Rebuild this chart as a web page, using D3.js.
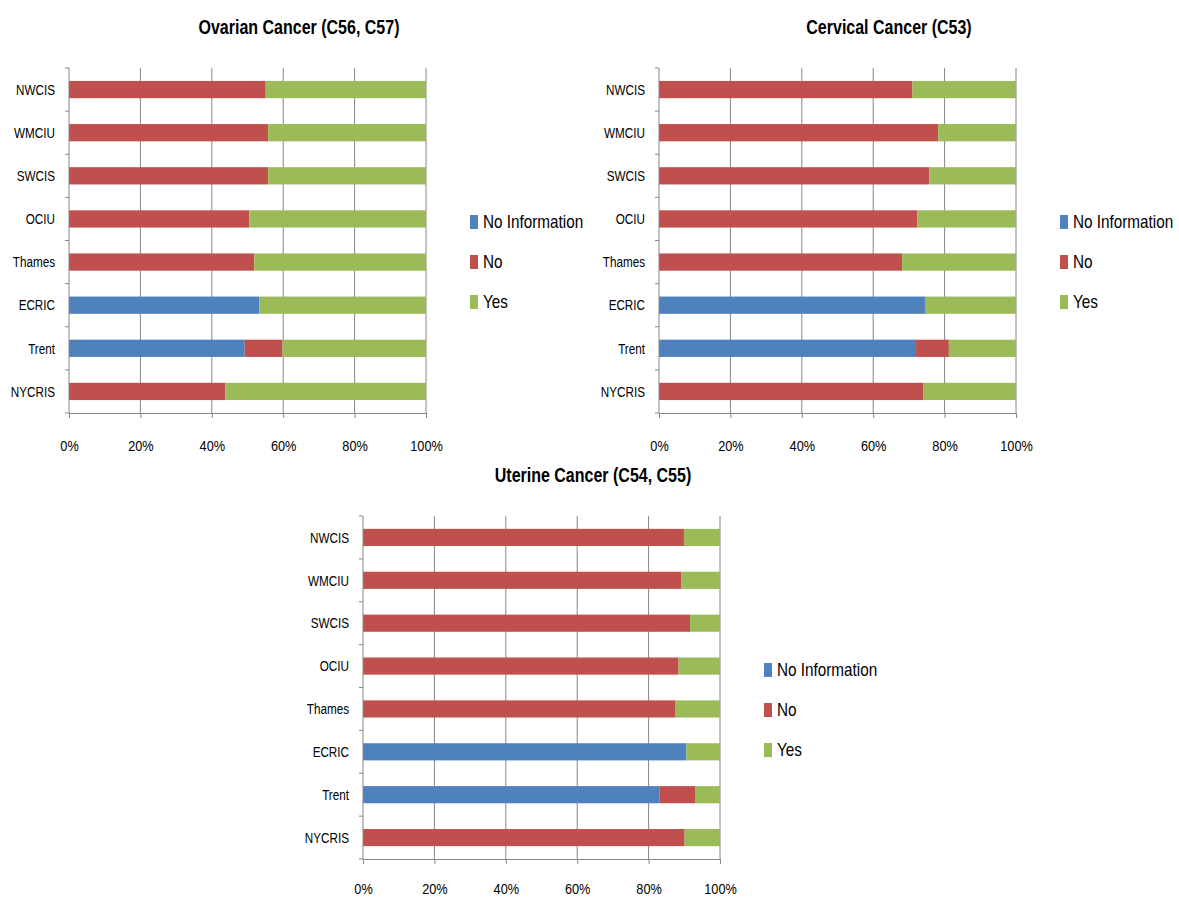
<!DOCTYPE html>
<html>
<head>
<meta charset="utf-8">
<script src="https://cdn.jsdelivr.net/npm/d3@7"></script>
<style>
  body { margin: 0; background: #fff; }
  svg { display: block; }
  text { font-family: "Liberation Sans", Arial, sans-serif; fill: #000; }
</style>
</head>
<body>
<svg width="1179" height="899"></svg>
<script>
//data
const registries = ["NWCIS", "WMCIU", "SWCIS", "OCIU", "Thames", "ECRIC", "Trent", "NYCRIS"];
const seriesNames = ["No Information", "No", "Yes"];
const seriesColors = ["#4F81BD", "#C0504D", "#9BBB59"];
const xTicks = [0, 0.2, 0.4, 0.6, 0.8, 1];

const ovarianNoInfo = [0, 0, 0, 0, 0, 53.3, 49.2, 0];
const ovarianNo     = [55.1, 55.8, 55.8, 50.5, 51.9, 0, 10.6, 43.8];
const ovarianYes    = [44.9, 44.2, 44.2, 49.5, 48.1, 46.7, 40.2, 56.2];

const cervicalNoInfo = [0, 0, 0, 0, 0, 74.5, 72.0, 0];
const cervicalNo     = [71.0, 78.2, 75.7, 72.4, 68.1, 0, 9.2, 74.1];
const cervicalYes    = [29.0, 21.8, 24.3, 27.6, 31.9, 25.5, 18.8, 25.9];

const uterineNoInfo = [0, 0, 0, 0, 0, 90.6, 83.0, 0];
const uterineNo     = [89.9, 89.1, 91.6, 88.4, 87.4, 0, 10.0, 90.1];
const uterineYes    = [10.1, 10.9, 8.4, 11.6, 12.6, 9.4, 7.0, 9.9];

const charts = [
  {title: "Ovarian Cancer (C56, C57)", x: 69, y: 68, h: 345, pad: 22, vals: [ovarianNoInfo, ovarianNo, ovarianYes]},
  {title: "Cervical Cancer (C53)", x: 659, y: 68, h: 345, pad: 22, vals: [cervicalNoInfo, cervicalNo, cervicalYes]},
  {title: "Uterine Cancer (C54, C55)", x: 363, y: 516, h: 343, pad: 19, vals: [uterineNoInfo, uterineNo, uterineYes]}
];

const plotW = 357;
const gridColor = "#868686";

const svg = d3.select("svg");

//narrow-looking text: place at (x,y) and squeeze horizontally
function squeeze(sel, x, y, s) {
  sel.attr("x", 0).attr("y", 0)
    .attr("transform", (d, i) => {
      const xx = typeof x === "function" ? x(d, i) : x;
      const yy = typeof y === "function" ? y(d, i) : y;
      return `translate(${xx}, ${yy}) scale(${s}, 1)`;
    });
  return sel;
}

charts.forEach(c => {
  const plotH = c.h;
  const g = svg.append("g").attr("transform", `translate(${c.x}, ${c.y})`);

  const rows = registries.map((r, i) => {
    const o = {reg: r};
    seriesNames.forEach((s, k) => { o[s] = c.vals[k][i]; });
    return o;
  });
  const stacked = d3.stack().keys(seriesNames)(rows);

  const xScale = d3.scaleLinear().domain([0, 100]).range([0, plotW]);
  const yScale = d3.scaleBand().domain(registries).range([0, plotH])
    .paddingInner(0.6).paddingOuter(0.3);

  //gridlines
  g.append("g").selectAll("line")
    .data(xTicks.slice(1))
    .join("line")
      .attr("x1", d => xScale(d * 100)).attr("x2", d => xScale(d * 100))
      .attr("y1", 0).attr("y2", plotH)
      .attr("stroke", gridColor).attr("stroke-width", 1);

  //bars
  g.append("g").selectAll("g")
    .data(stacked)
    .join("g")
      .attr("fill", (d, i) => seriesColors[i])
    .selectAll("rect")
    .data(d => d)
    .join("rect")
      .attr("x", d => xScale(d[0]))
      .attr("width", d => xScale(d[1]) - xScale(d[0]))
      .attr("y", d => yScale(d.data.reg))
      .attr("height", yScale.bandwidth());

  //y axis line + ticks at band boundaries
  g.append("line")
    .attr("x1", 0).attr("x2", 0).attr("y1", 0).attr("y2", plotH)
    .attr("stroke", gridColor);
  g.append("g").selectAll("line")
    .data(d3.range(registries.length + 1))
    .join("line")
      .attr("x1", -4).attr("x2", 0)
      .attr("y1", i => i * yScale.step()).attr("y2", i => i * yScale.step())
      .attr("stroke", gridColor);

  //category labels
  g.append("g").selectAll("text")
    .data(registries)
    .join("text")
      .attr("dy", "0.35em")
      .attr("text-anchor", "end")
      .attr("font-size", 15)
      .text(d => d)
      .call(squeeze, -14, d => yScale(d) + yScale.bandwidth() / 2, 0.78);

  //x axis
  const xAxis = g.append("g")
    .attr("transform", `translate(0, ${plotH})`)
    .call(d3.axisBottom(d3.scaleLinear().domain([0, 1]).range([0, plotW]))
      .tickValues(xTicks)
      .tickFormat(d3.format(".0%"))
      .tickSizeInner(5).tickSizeOuter(0).tickPadding(c.pad));
  xAxis.select(".domain").attr("stroke", gridColor);
  xAxis.selectAll(".tick line").attr("stroke", gridColor);
  xAxis.selectAll(".tick text")
    .attr("font-size", 15)
    .attr("font-family", "'Liberation Sans', Arial, sans-serif")
    .attr("fill", "#000")
    .attr("transform", "scale(0.85, 1)");

  //title
  g.append("text")
    .attr("text-anchor", "middle")
    .attr("font-size", 20)
    .attr("font-weight", "bold")
    .text(c.title)
    .call(squeeze, 230, -34, 0.8);

  //legend
  const leg = g.append("g").attr("transform", `translate(401, 154)`);
  seriesNames.forEach((s, i) => {
    leg.append("rect")
      .attr("x", 0).attr("y", i * 40 - 7)
      .attr("width", 8).attr("height", 14)
      .attr("fill", seriesColors[i]);
    leg.append("text")
      .attr("dy", "0.35em")
      .attr("font-size", 18)
      .text(s)
      .call(squeeze, 13, i * 40, 0.85);
  });
});
</script>
</body>
</html>
